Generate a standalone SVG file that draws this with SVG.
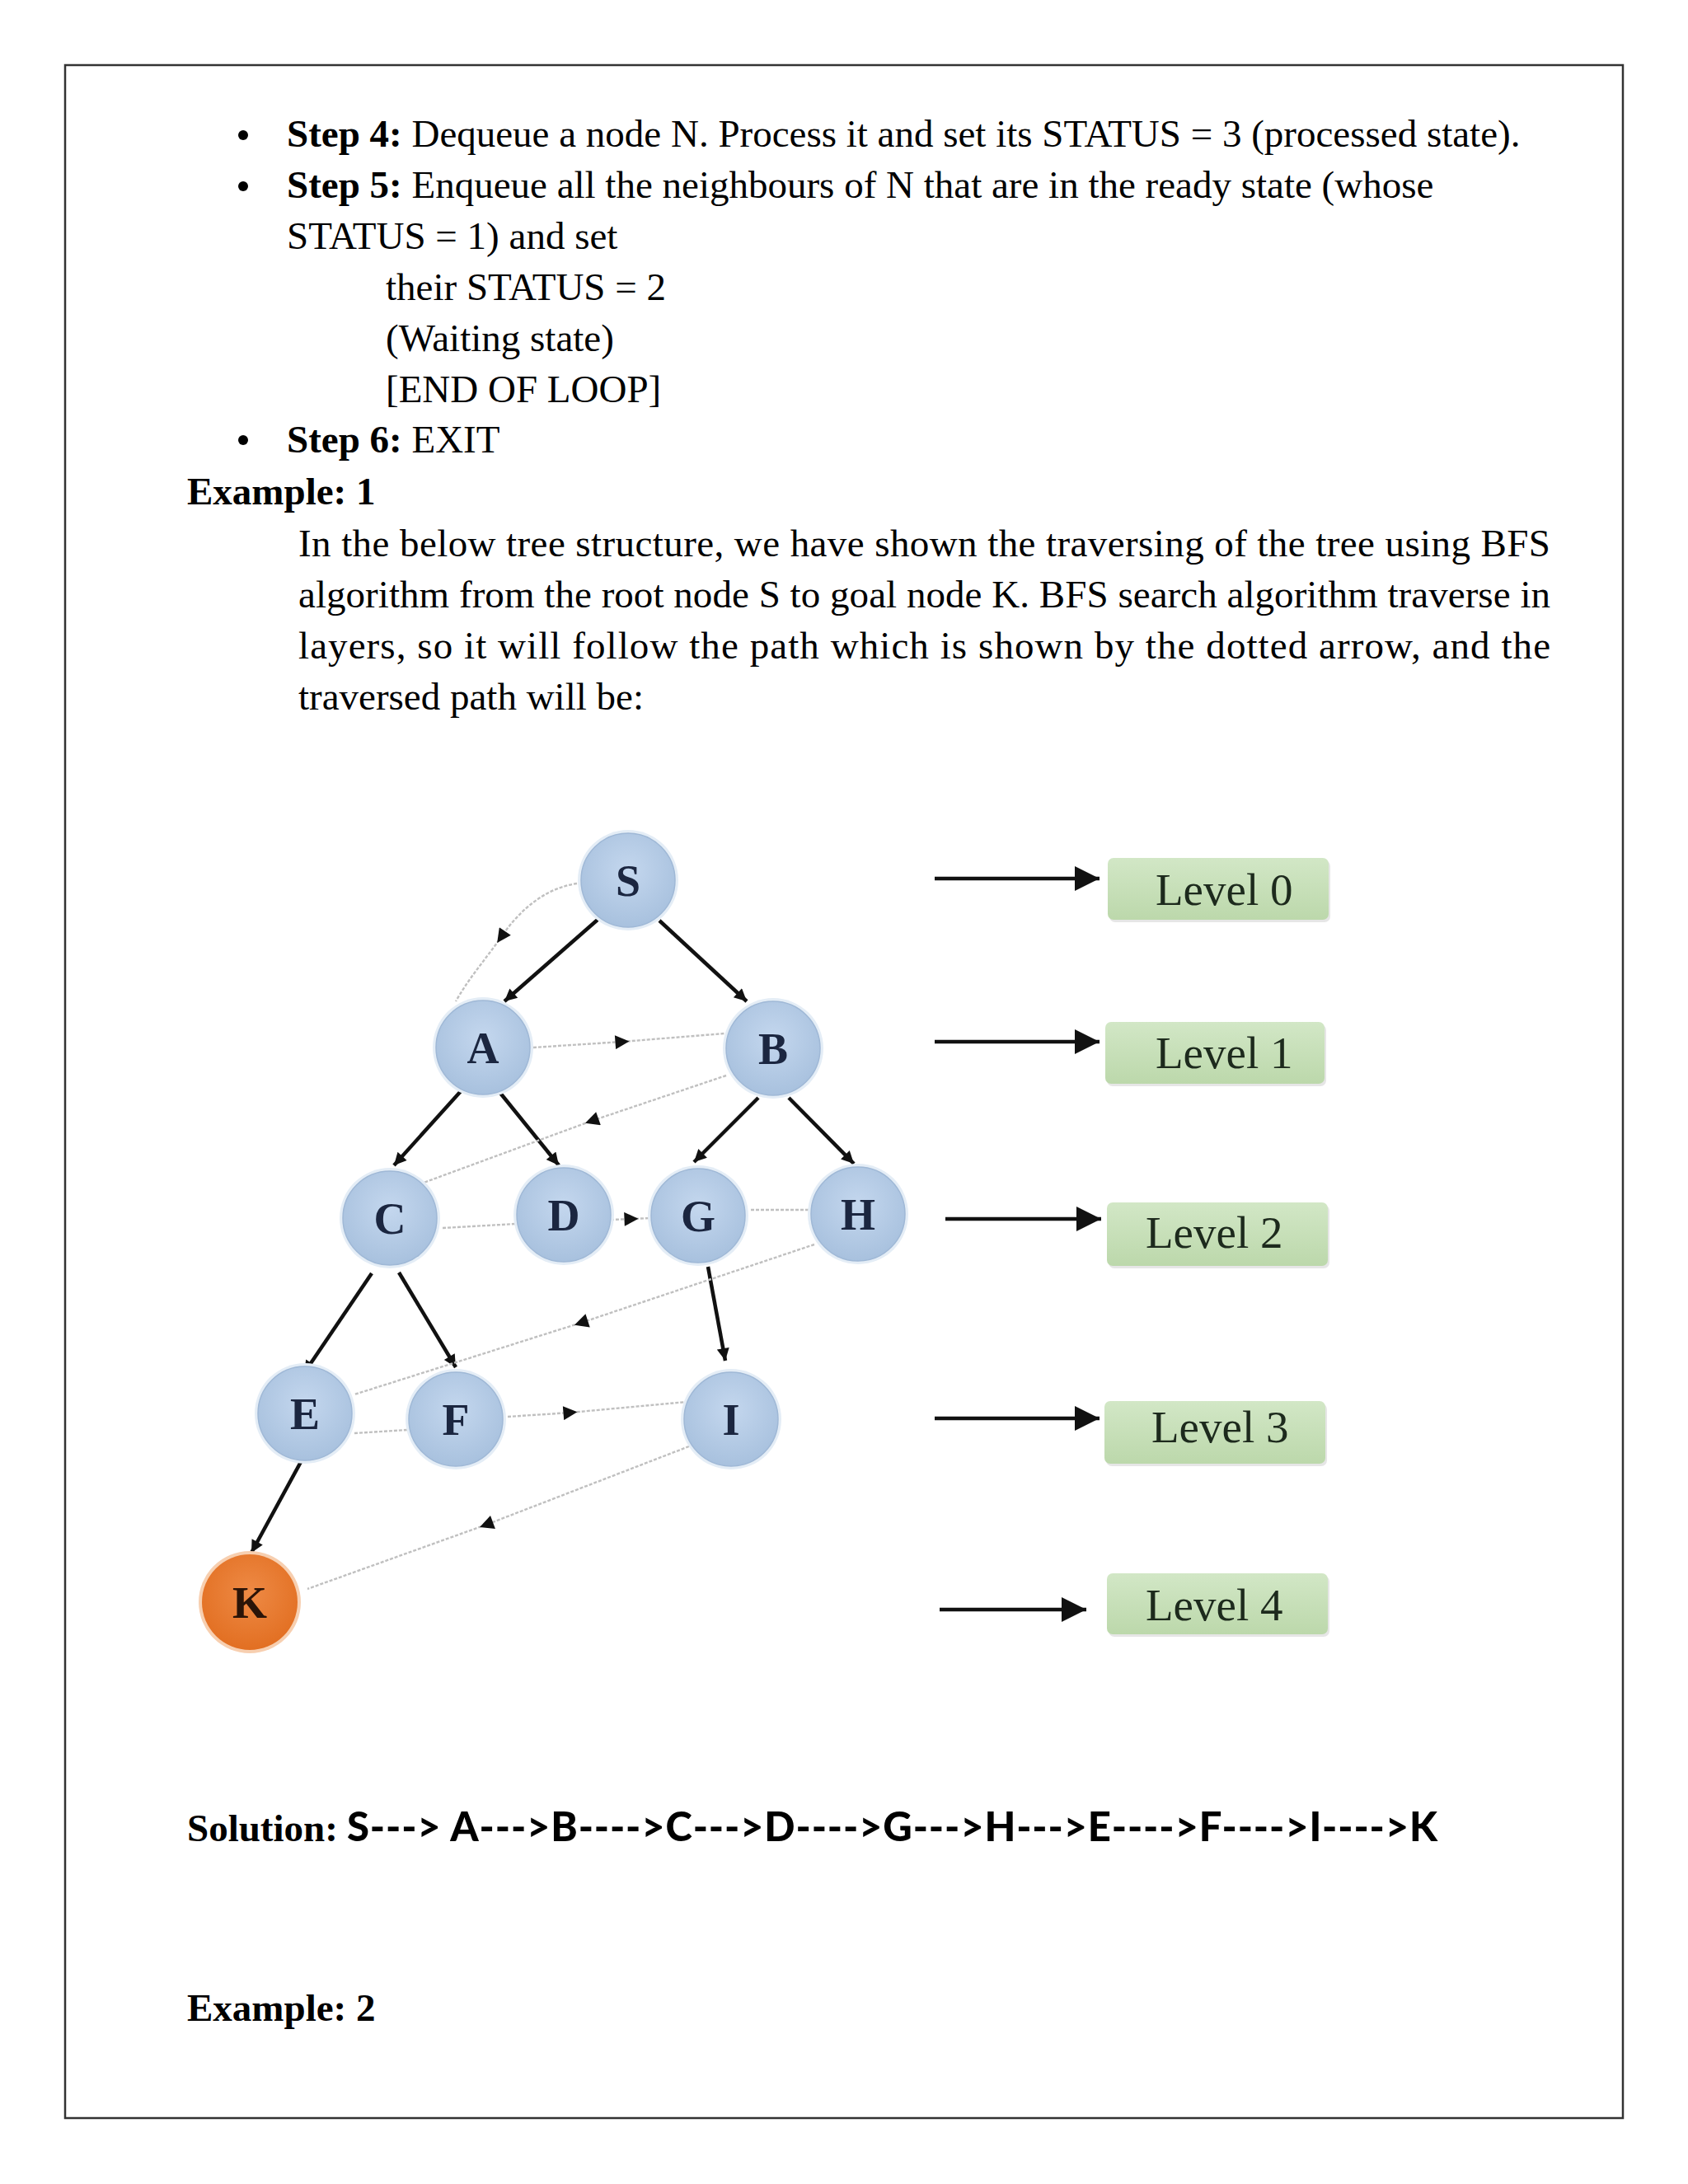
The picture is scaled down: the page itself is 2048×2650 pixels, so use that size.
<svg xmlns="http://www.w3.org/2000/svg" width="2048" height="2650" viewBox="0 0 2048 2650">
<defs>
<style>
.t{font-family:"Liberation Serif","Times New Roman",serif;font-size:47px;fill:#000}
.b{font-weight:bold}
.nl{font-family:"Liberation Serif","Times New Roman",serif;font-size:54px;font-weight:bold;fill:#1b2640;text-anchor:middle}
.lv{font-family:"Liberation Serif","Times New Roman",serif;font-size:55px;fill:#1d2a1d}
.edge{stroke:#111;stroke-width:4.5;fill:none;marker-end:url(#ah)}
.dot{stroke:#c0c0c0;stroke-width:2.4;stroke-dasharray:4 2;fill:none}
.dm{marker-mid:url(#mh)}
.lar{stroke:#111;stroke-width:4.5;fill:none;marker-end:url(#big)}
.halo{fill:#e4edf6}
.nd{fill:url(#blue);stroke:#9fb8d6;stroke-width:1.5}
.box{fill:url(#green)}
.sh{fill:#e6e6e6}
</style>
<radialGradient id="blue" cx="50%" cy="40%" r="60%">
<stop offset="0" stop-color="#c4d7ee"/>
<stop offset="1" stop-color="#a8c1de"/>
</radialGradient>
<radialGradient id="orange" cx="50%" cy="40%" r="60%">
<stop offset="0" stop-color="#ee8a45"/>
<stop offset="1" stop-color="#e26f22"/>
</radialGradient>
<linearGradient id="green" x1="0" y1="0" x2="0" y2="1">
<stop offset="0" stop-color="#d2e7c6"/>
<stop offset="1" stop-color="#bcd8ab"/>
</linearGradient>
<marker id="ah" viewBox="0 0 10 10" refX="10" refY="5" markerUnits="userSpaceOnUse" markerWidth="20" markerHeight="15" orient="auto">
<path d="M0,0 L10,5 L0,10 z" fill="#111"/>
</marker>
<marker id="mh" viewBox="0 0 10 10" refX="5" refY="5" markerUnits="userSpaceOnUse" markerWidth="22" markerHeight="17" orient="auto">
<path d="M0,0 L10,5 L0,10 z" fill="#111"/>
</marker>
<marker id="big" viewBox="0 0 10 10" refX="10" refY="5" markerUnits="userSpaceOnUse" markerWidth="32" markerHeight="30" orient="auto">
<path d="M0,0 L10,5 L0,10 z" fill="#111"/>
</marker>
</defs>
<rect width="2048" height="2650" fill="#fff"/>
<rect x="79" y="79" width="1890" height="2491" fill="none" stroke="#333" stroke-width="2.5"/>

<g id="text-steps">
<circle cx="295" cy="164" r="6"/>
<circle cx="295" cy="226" r="6"/>
<circle cx="295" cy="534" r="6"/>
<text class="t" x="348" y="178"><tspan class="b">Step 4:</tspan> Dequeue a node N. Process it and set its STATUS = 3 (processed state).</text>
<text class="t" x="348" y="240"><tspan class="b">Step 5:</tspan> Enqueue all the neighbours of N that are in the ready state (whose</text>
<text class="t" x="348" y="302">STATUS = 1) and set</text>
<text class="t" x="468" y="364">their STATUS = 2</text>
<text class="t" x="468" y="426">(Waiting state)</text>
<text class="t" x="468" y="488">[END OF LOOP]</text>
<text class="t" x="348" y="549"><tspan class="b">Step 6:</tspan> EXIT</text>
<text class="t b" x="227" y="612">Example: 1</text>
<text class="t" x="362" y="675" textLength="1519" lengthAdjust="spacing">In the below tree structure, we have shown the traversing of the tree using BFS</text>
<text class="t" x="362" y="737" textLength="1519" lengthAdjust="spacing">algorithm from the root node S to goal node K. BFS search algorithm traverse in</text>
<text class="t" x="362" y="799" textLength="1519" lengthAdjust="spacing">layers, so it will follow the path which is shown by the dotted arrow, and the</text>
<text class="t" x="362" y="861">traversed path will be:</text>
</g>

<g id="connectors">
<line class="edge" x1="725" y1="1116" x2="612" y2="1215"/>
<line class="edge" x1="800" y1="1117" x2="906" y2="1215"/>
<line class="edge" x1="560" y1="1323" x2="478" y2="1414"/>
<line class="edge" x1="606" y1="1325" x2="678" y2="1414"/>
<line class="edge" x1="920" y1="1332" x2="842" y2="1410"/>
<line class="edge" x1="957" y1="1332" x2="1036" y2="1412"/>
<line class="edge" x1="451" y1="1545" x2="369" y2="1666"/>
<line class="edge" x1="484" y1="1544" x2="553" y2="1659"/>
<line class="edge" x1="859" y1="1537" x2="880" y2="1651"/>
<line class="edge" x1="366" y1="1772" x2="305" y2="1884"/>

<path class="dot dm" d="M700,1072 C660,1078 630,1105 608,1137 C590,1163 570,1185 553,1215"/>
<polyline class="dot dm" points="647,1271 755,1264 879,1254"/>
<polyline class="dot dm" points="881,1305 718,1360 514,1435"/>
<line class="dot" x1="537" y1="1490" x2="626" y2="1485"/>
<polyline class="dot dm" points="741,1480 766,1479 790,1478"/>
<line class="dot" x1="911" y1="1468" x2="982" y2="1468"/>
<polyline class="dot dm" points="988,1510 705,1605 430,1692"/>
<line class="dot" x1="430" y1="1739" x2="494" y2="1735"/>
<polyline class="dot dm" points="616,1719 692,1714 833,1701"/>
<polyline class="dot dm" points="836,1755 590,1850 373,1928"/>

<line class="lar" x1="1134" y1="1066" x2="1334" y2="1066"/>
<line class="lar" x1="1134" y1="1264" x2="1334" y2="1264"/>
<line class="lar" x1="1147" y1="1479" x2="1336" y2="1479"/>
<line class="lar" x1="1134" y1="1721" x2="1334" y2="1721"/>
<line class="lar" x1="1140" y1="1953" x2="1318" y2="1953"/>
</g>

<g id="node-S"><circle class="halo" cx="762" cy="1068" r="61"/><circle class="nd" cx="762" cy="1068" r="57"/><text class="nl" x="762" y="1087">S</text></g>
<g id="node-A"><circle class="halo" cx="586" cy="1271" r="61"/><circle class="nd" cx="586" cy="1271" r="57"/><text class="nl" x="586" y="1290">A</text></g>
<g id="node-B"><circle class="halo" cx="938" cy="1272" r="61"/><circle class="nd" cx="938" cy="1272" r="57"/><text class="nl" x="938" y="1291">B</text></g>
<g id="node-C"><circle class="halo" cx="473" cy="1478" r="61"/><circle class="nd" cx="473" cy="1478" r="57"/><text class="nl" x="473" y="1497">C</text></g>
<g id="node-D"><circle class="halo" cx="684" cy="1474" r="61"/><circle class="nd" cx="684" cy="1474" r="57"/><text class="nl" x="684" y="1493">D</text></g>
<g id="node-G"><circle class="halo" cx="847" cy="1475" r="61"/><circle class="nd" cx="847" cy="1475" r="57"/><text class="nl" x="847" y="1494">G</text></g>
<g id="node-H"><circle class="halo" cx="1041" cy="1473" r="61"/><circle class="nd" cx="1041" cy="1473" r="57"/><text class="nl" x="1041" y="1492">H</text></g>
<g id="node-E"><circle class="halo" cx="370" cy="1715" r="61"/><circle class="nd" cx="370" cy="1715" r="57"/><text class="nl" x="370" y="1734">E</text></g>
<g id="node-F"><circle class="halo" cx="553" cy="1722" r="61"/><circle class="nd" cx="553" cy="1722" r="57"/><text class="nl" x="553" y="1741">F</text></g>
<g id="node-I"><circle class="halo" cx="887" cy="1722" r="61"/><circle class="nd" cx="887" cy="1722" r="57"/><text class="nl" x="887" y="1741">I</text></g>
<g id="node-K"><circle cx="303" cy="1944" r="62" fill="#f7cfb0"/><circle cx="303" cy="1944" r="58" fill="url(#orange)"/><text class="nl" x="303" y="1963" style="fill:#2a1408">K</text></g>

<g id="level-0"><rect class="sh" x="1346" y="1044" width="268" height="75" rx="7"/><rect class="box" x="1344" y="1041" width="268" height="75" rx="7"/><text class="lv" x="1402" y="1098">Level 0</text></g>
<g id="level-1"><rect class="sh" x="1343" y="1243" width="266" height="75" rx="7"/><rect class="box" x="1341" y="1240" width="266" height="75" rx="7"/><text class="lv" x="1402" y="1296">Level 1</text></g>
<g id="level-2"><rect class="sh" x="1345" y="1462" width="268" height="77" rx="7"/><rect class="box" x="1343" y="1459" width="268" height="77" rx="7"/><text class="lv" x="1390" y="1514">Level 2</text></g>
<g id="level-3"><rect class="sh" x="1342" y="1703" width="268" height="76" rx="7"/><rect class="box" x="1340" y="1700" width="268" height="76" rx="7"/><text class="lv" x="1397" y="1750">Level 3</text></g>
<g id="level-4"><rect class="sh" x="1345" y="1912" width="268" height="74" rx="7"/><rect class="box" x="1343" y="1909" width="268" height="74" rx="7"/><text class="lv" x="1390" y="1966">Level 4</text></g>

<g id="text-solution">
<text class="t b" x="227" y="2234">Solution:</text>
<text x="421" y="2234" textLength="1323" lengthAdjust="spacing" style="font-family:Lato,'Open Sans',sans-serif;font-weight:900;font-size:49px;fill:#000">S---&gt; A---&gt;B----&gt;C---&gt;D----&gt;G---&gt;H---&gt;E----&gt;F----&gt;I----&gt;K</text>
<text class="t b" x="227" y="2452">Example: 2</text>
</g>
</svg>
